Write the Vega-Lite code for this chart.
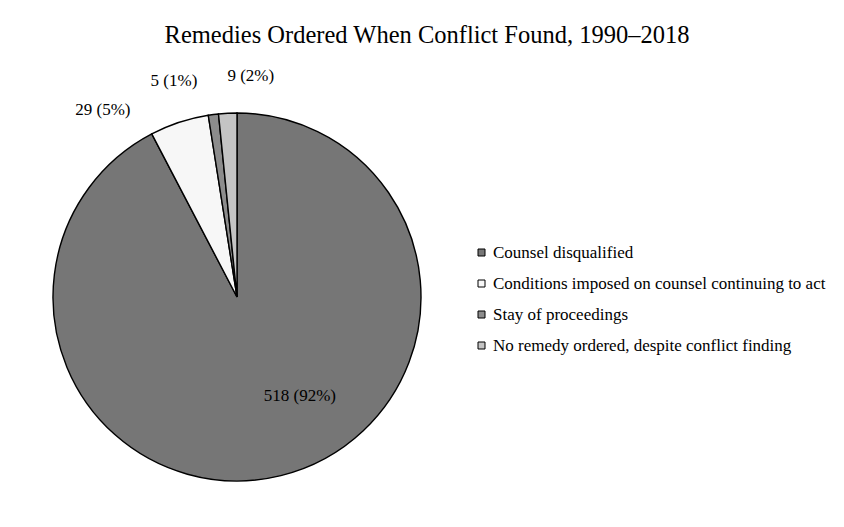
{
  "$schema": "https://vega.github.io/schema/vega-lite/v6.json",
  "autosize": "none",
  "width": 474,
  "height": 368,
  "padding": {"left": 0, "top": 113, "right": 370, "bottom": 46},
  "background": "white",
  "config": {"view": {"stroke": null}, "font": "Liberation Serif"},
  "title": {
    "text": "Remedies Ordered When Conflict Found, 1990–2018",
    "font": "Liberation Serif",
    "fontSize": 24.5,
    "fontWeight": "normal",
    "color": "black",
    "anchor": "middle",
    "frame": "group",
    "baseline": "alphabetic",
    "offset": 0,
    "dx": 190
  },
  "data": {
    "values": [
      {"remedy": "Counsel disqualified", "count": 518, "rank": 1, "label": "518 (92%)"},
      {"remedy": "Conditions imposed on counsel continuing to act", "count": 29, "rank": 2, "label": "29 (5%)"},
      {"remedy": "Stay of proceedings", "count": 5, "rank": 3, "label": "5 (1%)"},
      {"remedy": "No remedy ordered, despite conflict finding", "count": 9, "rank": 4, "label": "9 (2%)"}
    ]
  },
  "encoding": {
    "theta": {"field": "count", "type": "quantitative", "stack": true},
    "order": {"field": "rank", "type": "quantitative"}
  },
  "layer": [
    {
      "mark": {"type": "arc", "outerRadius": 184, "stroke": "black", "strokeWidth": 1.4},
      "encoding": {
        "color": {
          "field": "remedy",
          "type": "nominal",
          "scale": {
            "domain": ["Counsel disqualified", "Conditions imposed on counsel continuing to act", "Stay of proceedings", "No remedy ordered, despite conflict finding"],
            "range": ["#767676", "#f7f7f7", "#8c8c8c", "#c4c4c4"]
          },
          "legend": {
            "title": null,
            "orient": "none",
            "legendX": 473,
            "legendY": 131,
            "symbolType": "square",
            "symbolSize": 49,
            "symbolStrokeColor": "black",
            "symbolStrokeWidth": 1,
            "labelFont": "Liberation Serif",
            "labelFontSize": 17,
            "labelColor": "black",
            "labelLimit": 400,
            "labelOffset": 3,
            "rowPadding": 13
          }
        }
      }
    },
    {
      "mark": {"type": "text", "font": "Liberation Serif", "fontSize": 17, "color": "black", "dx": 35, "dy": -15},
      "encoding": {
        "radius": {"value": 117},
        "text": {"condition": {"test": "datum.rank === 1", "field": "label"}, "value": ""}
      }
    },
    {
      "mark": {"type": "text", "font": "Liberation Serif", "fontSize": 17, "color": "black", "dx": -62, "dy": 31},
      "encoding": {
        "radius": {"value": 230},
        "text": {"condition": {"test": "datum.rank === 2", "field": "label"}, "value": ""}
      }
    },
    {
      "mark": {"type": "text", "font": "Liberation Serif", "fontSize": 17, "color": "black", "dx": -34, "dy": 8},
      "encoding": {
        "radius": {"value": 226},
        "text": {"condition": {"test": "datum.rank === 3", "field": "label"}, "value": ""}
      }
    },
    {
      "mark": {"type": "text", "font": "Liberation Serif", "fontSize": 17, "color": "black", "dx": 25, "dy": 1},
      "encoding": {
        "radius": {"value": 222},
        "text": {"condition": {"test": "datum.rank === 4", "field": "label"}, "value": ""}
      }
    }
  ]
}
